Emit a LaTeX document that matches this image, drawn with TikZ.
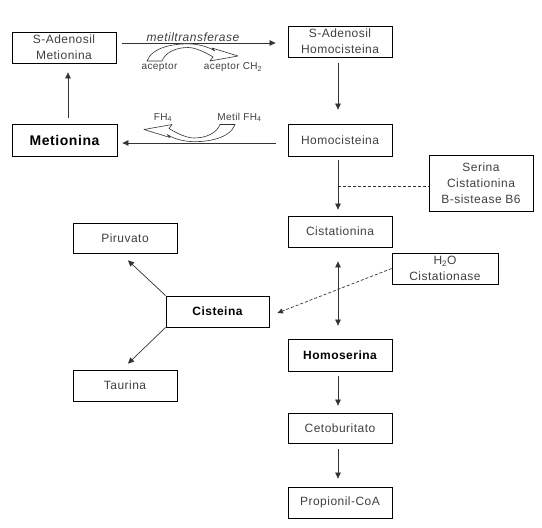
\documentclass[tikz,border=0pt]{standalone}
\usepackage{fontspec}
\setmainfont{Liberation Sans}[LetterSpace=4]
\usetikzlibrary{arrows.meta,calc}
\begin{document}
\begin{tikzpicture}[x=1pt,y=-1pt,
  box/.style={draw=black, line width=0.8pt, minimum width=104pt, minimum height=31pt,
    inner sep=0pt, align=center, font=\fontsize{12}{16}\selectfont, text=black!75},
  bbox/.style={box, font=\bfseries\fontsize{12}{15}\selectfont, text=black},
  arr/.style={draw=black!80, line width=0.7pt, -{Triangle[width=5.5pt,length=6pt]}},
  dbl/.style={draw=black!80, line width=0.7pt, {Triangle[width=5.5pt,length=6pt]}-{Triangle[width=5.5pt,length=6pt]}},
  dsh/.style={draw=black!80, line width=0.7pt, dashed, dash pattern=on 3pt off 2pt},
  lbl/.style={inner sep=0pt, text=black!75, font=\fontsize{10}{12}\selectfont},
  curvarr/.pic={
    \draw[draw=black!80, fill=white, line width=0.6pt, line join=round]
      (147,61) .. controls (152,47) and (175,43) .. (192,44)
      .. controls (203,45) and (210,48) .. (215,51) -- (212,48) -- (238,56)
      -- (210,61) -- (213,57) .. controls (205,52) and (195,47.5) .. (188,47.5)
      .. controls (175,47.5) and (165,53) .. (162,61) -- cycle;
  }]
\useasboundingbox (0,0) rectangle (542,528);
\fill[white] (0,0) rectangle (542,528);

% nodes
\node[box] (sam) at (64,47.5) {S-Adenosil\\Metionina};
\node[box] (sah) at (340,41.5) {S-Adenosil\\Homocisteina};
\node[bbox, minimum width=105pt, minimum height=32pt, font=\bfseries\fontsize{14}{17}\selectfont] (met) at (64.5,140) {Metionina};
\node[box, minimum height=32pt] (hcy) at (340,140) {Homocisteina};
\node[box, minimum height=56pt] (ser) at (481,183) {Serina\\Cistationina\\B-sistease B6};
\node[box] (cys) at (340,231.5) {Cistationina};
\node[box, minimum width=106pt] (h2o) at (445,268.5) {H\textsubscript{2}O\\Cistationase};
\node[box, minimum height=30pt] (piru) at (125,238) {Piruvato};
\node[bbox, minimum width=103pt] (cis) at (217.5,311.5) {Cisteina};
\node[box] (taur) at (125,385.5) {Taurina};
\node[bbox, minimum height=32pt] (hse) at (340,355) {Homoserina};
\node[box, minimum height=30pt] (ceto) at (340,428) {Cetoburitato};
\node[box] (prop) at (340,502.5) {Propionil-CoA};

% helper coordinates
\coordinate (ytop) at (0,43);
\coordinate (ymid) at (0,143);
\coordinate (xl) at (68,0);
\coordinate (xr) at (338,0);
\coordinate (ydsh) at (0,186);

% top row arrows
\draw[arr] ([xshift=6pt]sam.east |- ytop) -- ([xshift=-12pt]sah.west |- ytop);
\node[lbl, font=\itshape\fontsize{12}{13}\selectfont] (mt) at (193,37) {metiltransferase};
\pic at (0,0) {curvarr};
\node[lbl] (acc) at (159.5,67.5) {aceptor};
\node[lbl] (acch) at (233,67.5) {aceptor CH\textsubscript{2}};

% middle row
\draw[arr] ([xshift=-12pt]hcy.west |- ymid) -- ([xshift=5pt]met.east |- ymid);
\pic[rotate=180] at (382,185.5) {curvarr};
\node[lbl] (fh) at (163,117.5) {FH\textsubscript{4}};
\node[lbl] (mfh) at (239.5,117.5) {Metil FH\textsubscript{4}};

% verticals
\draw[arr] ([yshift=6pt]met.north -| xl) -- ([yshift=-9pt]sam.south -| xl);
\draw[arr] ([yshift=-6pt]sah.south -| xr) -- ([yshift=14pt]hcy.north -| xr);
\draw[arr] ([yshift=-4pt]hcy.south -| xr) -- ([yshift=6pt]cys.north -| xr);
\draw[dsh] (xr |- ydsh) -- (ser.west |- ydsh);
\draw[dbl] ([yshift=-14pt]cys.south -| xr) -- ([yshift=13pt]hse.north -| xr);
\draw[dsh, -{Triangle[width=5pt,length=5.5pt]}] (h2o.west) -- ($(cis.east)+(8,1.5)$);
\draw[arr] ([yshift=-5pt]hse.south -| xr) -- ([yshift=7pt]ceto.north -| xr);
\draw[arr] ([yshift=-6pt]ceto.south -| xr) -- ([yshift=8pt]prop.north -| xr);

% cisteina branches
\draw[arr] (cis.north west) -- ($(piru.south)+(3,7)$);
\draw[arr] (cis.south west) -- ($(taur.north)+(3,-6)$);
\end{tikzpicture}
\end{document}
